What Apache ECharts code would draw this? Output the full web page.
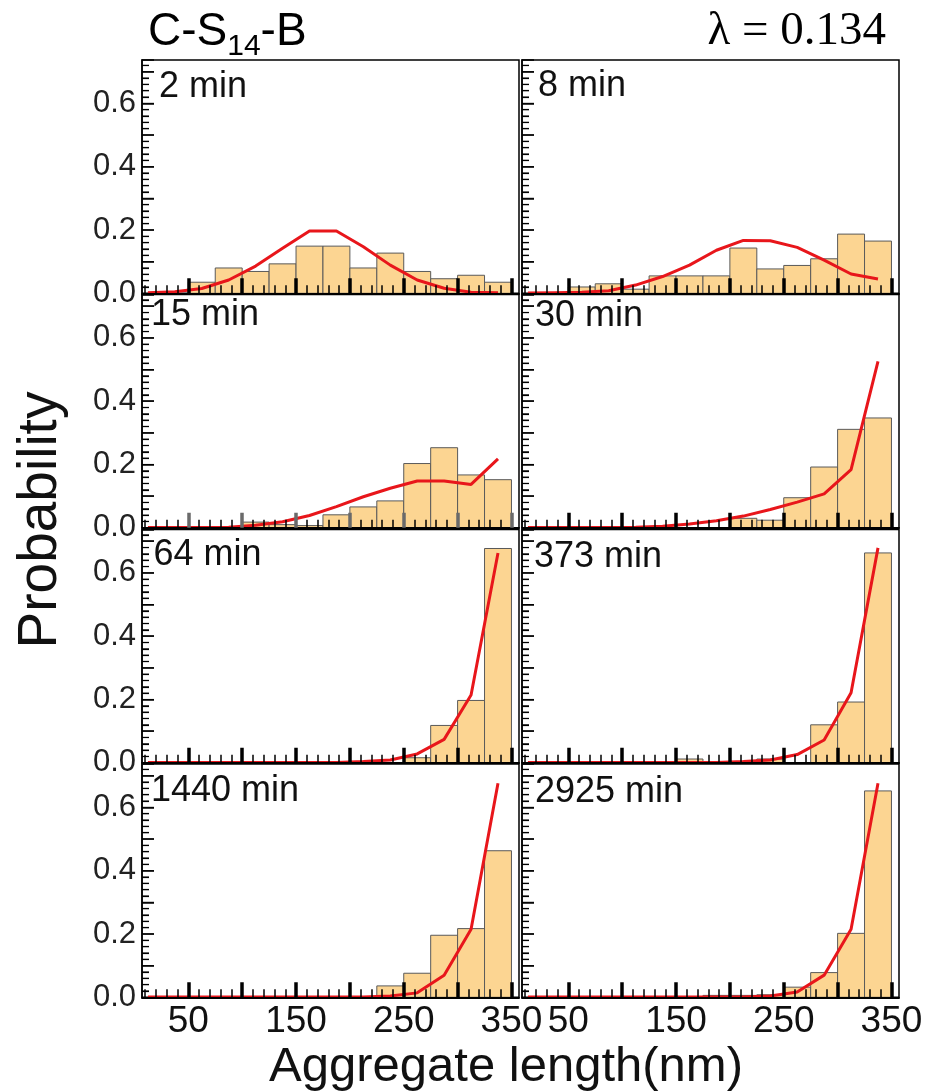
<!DOCTYPE html>
<html><head><meta charset="utf-8">
<script src="https://cdn.jsdelivr.net/npm/echarts@6/dist/echarts.min.js"></script>
<style>
html,body{margin:0;padding:0;background:#fff;overflow:hidden}
#wrap{position:relative;width:945px;height:1092px;overflow:hidden}
.layer{position:absolute}
</style>
</head><body><div id="wrap"><div id="bg" class="layer" style="left:0;top:0;width:945px;height:1092px"></div></div>
<script>
// ---------- DATA ----------
const binEdges = [50, 75, 100, 125, 150, 175, 200, 225, 250, 275, 300, 325, 350];
const fitCenters = [12.5, 37.5, 62.5, 87.5, 112.5, 137.5, 162.5, 187.5, 212.5, 237.5, 262.5, 287.5, 312.5, 337.5];
const panelNames = ['2 min', '8 min', '15 min', '30 min', '64 min', '373 min', '1440 min', '2925 min'];

const hist2min    = [0.035, 0.080, 0.069, 0.093, 0.149, 0.149, 0.080, 0.127, 0.069, 0.046, 0.057, 0.035];
const hist8min    = [0.020, 0.030, 0.013, 0.055, 0.055, 0.055, 0.143, 0.077, 0.088, 0.109, 0.187, 0.165];
const hist15min   = [0, 0, 0.018, 0.010, 0.007, 0.041, 0.066, 0.085, 0.203, 0.253, 0.167, 0.152];
const hist30min   = [0, 0, 0, 0, 0, 0, 0.030, 0.024, 0.095, 0.192, 0.311, 0.347];
const hist64min   = [0, 0, 0, 0, 0, 0, 0, 0, 0.016, 0.118, 0.197, 0.677];
const hist373min  = [0, 0, 0, 0, 0.012, 0, 0, 0.012, 0, 0.120, 0.192, 0.663];
const hist1440min = [0, 0, 0, 0, 0, 0, 0, 0.036, 0.076, 0.196, 0.217, 0.463];
const hist2925min = [0, 0, 0, 0, 0, 0.006, 0.006, 0.008, 0.032, 0.078, 0.202, 0.652];

const fit2min    = [0.002, 0.005, 0.015, 0.042, 0.086, 0.142, 0.197, 0.197, 0.147, 0.089, 0.042, 0.016, 0.003, 0.002];
const fit8min    = [0.001, 0.002, 0.003, 0.008, 0.026, 0.053, 0.089, 0.136, 0.167, 0.166, 0.145, 0.105, 0.061, 0.045];
const fit15min   = [0.001, 0.001, 0.001, 0.002, 0.008, 0.019, 0.039, 0.067, 0.098, 0.125, 0.148, 0.148, 0.137, 0.218];
const fit30min   = [0.001, 0.001, 0.001, 0.001, 0.002, 0.005, 0.012, 0.022, 0.037, 0.058, 0.081, 0.107, 0.184, 0.526];
const fit64min   = [0.001, 0.001, 0.001, 0.001, 0.001, 0.001, 0.001, 0.001, 0.004, 0.009, 0.028, 0.074, 0.214, 0.663];
const fit373min  = [0.001, 0.001, 0.001, 0.001, 0.001, 0.001, 0.001, 0.001, 0.004, 0.009, 0.026, 0.072, 0.221, 0.679];
const fit1440min = [0.001, 0.001, 0.001, 0.001, 0.001, 0.001, 0.001, 0.001, 0.001, 0.004, 0.014, 0.070, 0.215, 0.676];
const fit2925min = [0.001, 0.001, 0.001, 0.001, 0.001, 0.001, 0.001, 0.001, 0.001, 0.004, 0.017, 0.070, 0.215, 0.676];

const xMajorTicks = [50, 100, 150, 200, 250, 300, 350];
const xLabelTicks = [50, 150, 250, 350];
const xMinorTicks = [10, 20, 30, 40, 60, 70, 80, 90, 110, 120, 130, 140, 160, 170, 180, 190,
  210, 220, 230, 240, 260, 270, 280, 290, 310, 320, 330, 340];
const yLabelTicks = [0, 0.2, 0.4, 0.6];
const yMajorTicks = [0.1, 0.2, 0.3, 0.4, 0.5, 0.6, 0.7];
const yMinorTicks = [0.02, 0.04, 0.06, 0.08, 0.12, 0.14, 0.16, 0.18, 0.22, 0.24, 0.26, 0.28,
  0.32, 0.34, 0.36, 0.38, 0.42, 0.44, 0.46, 0.48, 0.52, 0.54, 0.56, 0.58, 0.62, 0.64, 0.66, 0.68, 0.72];

const xRange = [7, 357];
const yRange = [0, 0.737];
const yTickStep = 0.1;

// ---------- LAYOUT / STYLE ----------
const hists = [hist2min, hist8min, hist15min, hist30min, hist64min, hist373min, hist1440min, hist2925min];
const fits = [fit2min, fit8min, fit15min, fit30min, fit64min, fit373min, fit1440min, fit2925min];
const L = { colLeft: [142, 522], rowTop: [60, 294.5, 529.5, 764], w: 377, h: 233.3 };
const PAD = { l: 70, r: 40, t: 10, b: 60 };
const labelOff = [[17, 27], [16, 26], [9, 21], [13, 21.5], [11.5, 25.5], [12, 27.5], [9, 27.5], [13, 28]];
const BAR_FILL = '#FCD592', BAR_STROKE = '#5a5a5a', LINE_COLOR = '#E8161B';
const FONT = "'Liberation Sans', Arial, sans-serif";

function renderBar(params, api) {
  const v = api.value(2);
  if (!(v > 0)) return null;
  const p0 = api.coord([api.value(0), v]);
  const p1 = api.coord([api.value(1), 0]);
  return {
    type: 'rect',
    shape: { x: p0[0], y: p0[1], width: p1[0] - p0[0], height: p1[1] - p0[1] },
    style: { fill: BAR_FILL, stroke: BAR_STROKE, lineWidth: 1 }
  };
}
// backup inward y ticks, positioned through the axis scale
function renderYTick(params, api) {
  const p = api.coord([api.value(0), api.value(1)]);
  const len = api.value(2) ? 12 : 7;
  return {
    type: 'line',
    shape: { x1: p[0], y1: p[1], x2: p[0] + len, y2: p[1] },
    style: { stroke: '#000', lineWidth: 1.1 }
  };
}
const yTickData = yMajorTicks.map(v => [xRange[0], v, 1]).concat(yMinorTicks.map(v => [xRange[0], v, 0]));

const wrap = document.getElementById('wrap');

// ---------- background layer: headers and axis titles ----------
const mctx = document.createElement('canvas').getContext('2d');
function tw(txt, font) { mctx.font = font; return mctx.measureText(txt).width; }
const hFont = '46px ' + FONT, sFont = '30px ' + FONT;
const x0 = 148, w1 = tw('C-S', hFont), w2 = tw('14', sFont);
const ta = { textAlign: 'left', textVerticalAlign: 'middle', align: 'left', verticalAlign: 'middle' };
const tc = { textAlign: 'center', textVerticalAlign: 'middle', align: 'center', verticalAlign: 'middle' };
const bgChart = echarts.init(document.getElementById('bg'));
bgChart.setOption({
  animation: false,
  backgroundColor: '#fff',
  graphic: [
    { type: 'text', x: x0, y: 32, style: Object.assign({ text: 'C-S', font: hFont, fill: '#000' }, ta) },
    { type: 'text', x: x0 + w1, y: 47, style: Object.assign({ text: '14', font: sFont, fill: '#000' }, ta) },
    { type: 'text', x: x0 + w1 + w2, y: 32, style: Object.assign({ text: '-B', font: hFont, fill: '#000' }, ta) },
    { type: 'text', x: 886, y: 32, style: { text: 'λ = 0.134', font: "47px 'Liberation Serif', 'Times New Roman', serif", fill: '#000', textAlign: 'right', textVerticalAlign: 'middle', align: 'right', verticalAlign: 'middle' } },
    { type: 'text', x: 41, y: 520, rotation: Math.PI / 2, style: Object.assign({ text: 'Probability', font: '55px ' + FONT, fill: '#111' }, tc) },
    { type: 'text', x: 506, y: 1067, style: Object.assign({ text: 'Aggregate length(nm)', font: '49px ' + FONT, fill: '#111' }, tc) }
  ]
});

// ---------- one chart instance per panel ----------
for (let i = 0; i < 8; i++) {
  const col = i % 2, row = Math.floor(i / 2);
  const gl = L.colLeft[col], gt = L.rowTop[row];
  const divLeft = Math.floor(gl) - PAD.l, divTop = Math.floor(gt) - PAD.t;
  const div = document.createElement('div');
  div.className = 'layer';
  div.style.left = divLeft + 'px';
  div.style.top = divTop + 'px';
  div.style.width = (L.w + PAD.l + PAD.r) + 'px';
  div.style.height = Math.ceil(L.h + PAD.t + PAD.b) + 'px';
  wrap.appendChild(div);
  const gridLeft = gl - divLeft, gridTop = gt - divTop;
  const tickColor = i === 2 ? '#6a6a6a' : '#000';

  const ch = echarts.init(div);
  ch.setOption({
    animation: false,
    grid: { left: gridLeft, top: gridTop, width: L.w, height: L.h, show: true,
      borderColor: '#000', borderWidth: 1.5 },
    xAxis: [{
      type: 'value', min: xRange[0], max: xRange[1], position: 'bottom', z: 10,
      axisLine: { show: true, onZero: false, lineStyle: { color: '#000', width: 2 } },
      axisTick: { show: true, inside: true, length: 15, customValues: xMajorTicks,
        lineStyle: { color: tickColor, width: 3.5 } },
      axisLabel: { show: row === 3, customValues: xLabelTicks, fontSize: 37, fontFamily: FONT,
        color: '#111', margin: 6 },
      splitLine: { show: false }
    }, {
      type: 'value', min: xRange[0], max: xRange[1], position: 'bottom', z: 10,
      axisLine: { show: false },
      axisTick: { show: true, inside: true, length: 8, customValues: xMinorTicks,
        lineStyle: { color: '#000', width: 1.5 } },
      axisLabel: { show: false }, splitLine: { show: false }
    }],
    yAxis: [{
      type: 'value', min: yRange[0], max: yRange[1], interval: yTickStep, position: 'left', z: 10,
      axisLine: { show: true, onZero: false, lineStyle: { color: '#000', width: 1.5 } },
      axisTick: { show: true, inside: true, length: 12, lineStyle: { color: '#000', width: 1.5 } },
      axisLabel: { show: col === 0, customValues: yLabelTicks, fontSize: 31, fontFamily: FONT,
        color: '#222', margin: 6, formatter: v => v.toFixed(1) },
      splitLine: { show: false }
    }, {
      type: 'value', min: yRange[0], max: yRange[1], position: 'left', z: 10,
      axisLine: { show: false },
      axisTick: { show: true, inside: true, length: 7, customValues: yMinorTicks,
        lineStyle: { color: '#000', width: 1.2 } },
      axisLabel: { show: false }, splitLine: { show: false }
    }],
    series: [{
      type: 'custom', xAxisIndex: 0, yAxisIndex: 0, z: 2, clip: true,
      renderItem: renderBar, encode: { x: [0, 1], y: 2 },
      data: hists[i].map((v, k) => [binEdges[k], binEdges[k + 1], v])
    }, {
      type: 'line', xAxisIndex: 0, yAxisIndex: 0, z: 3, symbol: 'none', showSymbol: false,
      lineStyle: { color: LINE_COLOR, width: 3 },
      data: fitCenters.map((x, k) => [x, fits[i][k]])
    }, {
      type: 'custom', xAxisIndex: 0, yAxisIndex: 0, z: 12, clip: false, silent: true,
      renderItem: renderYTick, encode: { x: 0, y: 1 },
      data: yTickData
    }],
    graphic: [{
      type: 'text', x: gridLeft + labelOff[i][0], y: gridTop + labelOff[i][1], z: 20,
      style: Object.assign({ text: panelNames[i], font: '36px ' + FONT, fill: '#111' }, ta)
    }]
  });
}
</script>
</body></html>
